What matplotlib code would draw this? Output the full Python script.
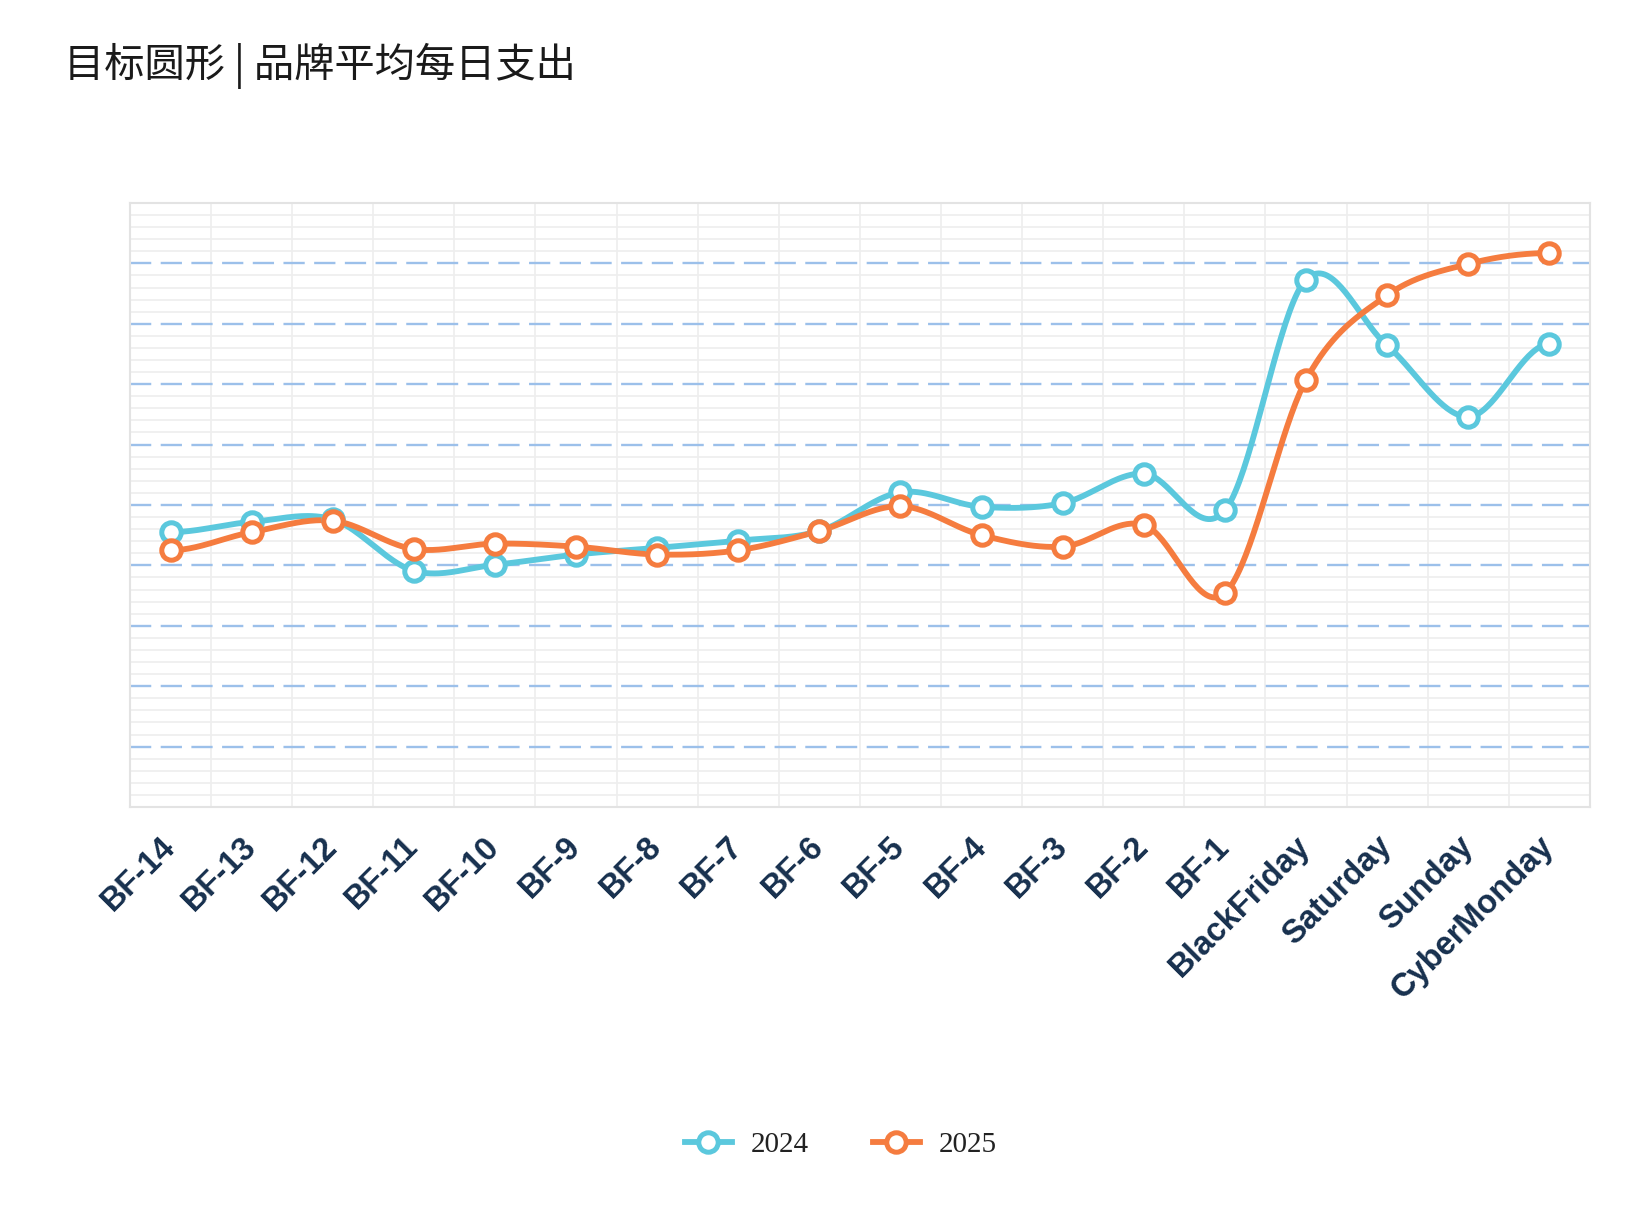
import matplotlib
matplotlib.use("Agg")
import matplotlib.pyplot as plt
import numpy as np

# Data (arbitrary 0-100 scale, no y labels shown)
days = ["BF-14", "BF-13", "BF-12", "BF-11", "BF-10", "BF-9", "BF-8", "BF-7",
        "BF-6", "BF-5", "BF-4", "BF-3", "BF-2", "BF-1",
        "BlackFriday", "Saturday", "Sunday", "CyberMonday"]
spend_2024 = [45.5, 47.2, 47.6, 39.1, 40.1, 41.8, 42.9, 44.1, 45.7, 52.1,
              49.7, 50.3, 55.2, 49.1, 87.3, 76.4, 64.6, 76.6]
spend_2025 = [42.5, 45.5, 47.4, 42.7, 43.6, 43.1, 41.8, 42.5, 45.7, 49.8,
              45.0, 43.1, 46.7, 35.4, 70.7, 84.7, 89.9, 91.7]

c2024 = "#5bc8dd"
c2025 = "#f57c3f"


def smooth(xs, ys, n=40):
    # catmull-rom style curve through the points (drawing only)
    xs = np.asarray(xs, float)
    ys = np.asarray(ys, float)
    m = np.zeros_like(ys)
    m[1:-1] = (ys[2:] - ys[:-2]) / 2
    ox, oy = [], []
    t = np.linspace(0, 1, n)
    for i in range(len(xs) - 1):
        h00 = 2*t**3 - 3*t**2 + 1
        h10 = t**3 - 2*t**2 + t
        h01 = -2*t**3 + 3*t**2
        h11 = t**3 - t**2
        ox.extend(xs[i] + t*(xs[i+1] - xs[i]))
        oy.extend(h00*ys[i] + h10*m[i] + h01*ys[i+1] + h11*m[i+1])
    return np.array(ox), np.array(oy)


fig = plt.figure(figsize=(16.39, 12.13), dpi=100)
ax = fig.add_axes([0.0793, 0.3347, 0.8907, 0.498])

x = np.arange(len(days))

# grid
for v in np.arange(2, 100, 2):
    if v % 10 == 0:
        ax.axhline(v, color="#9cc0ea", lw=1.7, ls=(0, (9, 4)), zorder=1)
    else:
        ax.axhline(v, color="#eeeeee", lw=1.2, zorder=0)
for b in np.arange(0.5, len(days) - 1, 1):
    ax.axvline(b, color="#eeeeee", lw=1.2, zorder=0)

lw = 4.2
ms = 14
mew = 3.6
for ys, col, lab in [(spend_2024, c2024, "2024"), (spend_2025, c2025, "2025")]:
    sx, sy = smooth(x, ys)
    ax.plot(sx, sy, color=col, lw=lw, zorder=3, solid_capstyle="round")
    ax.plot(x, ys, ls="none", marker="o", ms=ms, mfc="white", mec=col,
            mew=mew, zorder=4)
    ax.plot([], [], color=col, lw=lw, marker="o", ms=ms, mfc="white",
            mec=col, mew=mew, label=lab)

ax.set_xlim(-0.5, len(days) - 0.5)
ax.set_ylim(0, 100)
ax.set_yticks([])
ax.set_xticks(x)
ax.set_xticklabels(days, rotation=45, ha="right", va="center",
                   rotation_mode="anchor", fontsize=23.5, fontweight="bold",
                   family="Liberation Sans", color="#17304e")
ax.tick_params(axis="x", length=0, pad=25)
for s in ax.spines.values():
    s.set_color("#e3e3e3")
    s.set_linewidth(1.5)

fig.text(0.039, 0.946, "目标圆形 | 品牌平均每日支出", fontsize=29,
         family=["Noto Sans CJK SC", "DejaVu Sans"], fontweight="light",
         color="#1a1a1a", va="center", ha="left")

leg = fig.legend(loc="center", bbox_to_anchor=(0.513, 0.056), ncol=2,
                 frameon=False, handlelength=1.6, handletextpad=0.65,
                 columnspacing=2.2,
                 prop={"family": "Liberation Serif", "size": 21})
for t in leg.get_texts():
    t.set_color("#222222")

fig.savefig("out.png", dpi=100)
